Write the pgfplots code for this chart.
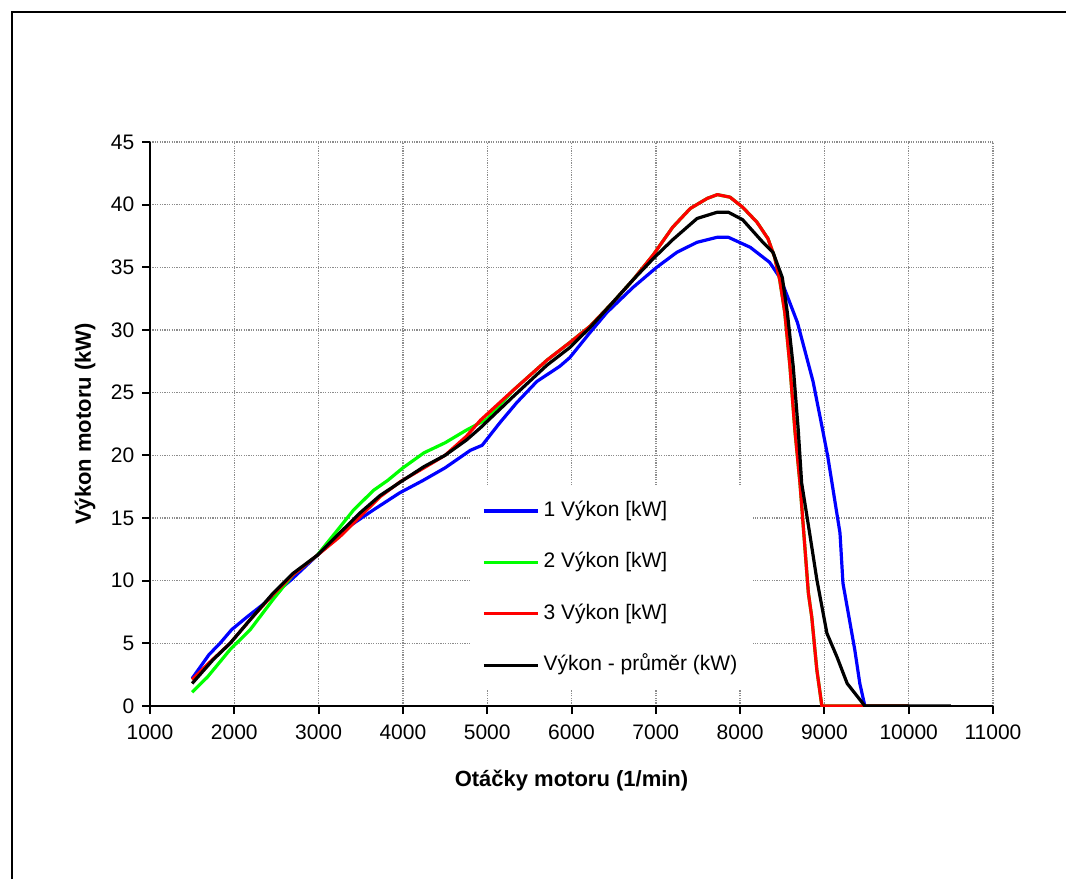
\documentclass[border=0pt]{standalone}
\usepackage{fontspec}
\setmainfont{Liberation Sans}
\usepackage{pgfplots}
\pgfplotsset{compat=1.18}

\definecolor{serA}{RGB}{0,0,255}
\definecolor{serB}{RGB}{0,255,0}
\definecolor{serC}{RGB}{255,0,0}

\begin{document}
\fontsize{11}{13}\selectfont
\begin{tikzpicture}
  \useasboundingbox (0,0) rectangle (533pt,439.5pt);
  % chart frame (left and top visible)
  \draw[line width=1pt] (6pt,0) -- (6pt,433.5pt) -- (533pt,433.5pt);
  \begin{axis}[
    at={(75pt,86.5pt)}, anchor=south west,
    scale only axis, width=421.5pt, height=282pt,
    xmin=1000, xmax=11000, ymin=0, ymax=45,
    xtick={1000,2000,...,11000}, ytick={0,5,...,45},
    scaled x ticks=false,
    axis x line*=bottom, axis y line*=left,
    axis line style={-, line width=1pt, black},
    tick align=outside, major tick length=4pt,
    tick style={line width=1pt, black},
    grid=major,
    major grid style={gray!90, line width=0.7pt, dash pattern=on 0.6pt off 0.6pt},
    /pgf/number format/1000 sep={},
    /pgf/number format/assume math mode=true,
    ticklabel style={font=\fontsize{10.5}{12}\selectfont},
    xticklabel style={yshift=-1.5pt},
    xlabel={\textbf{Otáčky motoru (1/min)}},
    ylabel={\textbf{Výkon motoru (kW)}},
    label style={font=\fontsize{11}{13}\selectfont},
    xlabel style={at={(axis description cs:0.5,-0.133)}, anchor=center},
    ylabel style={at={(axis description cs:-0.077,0.5)}, anchor=center, rotate=0},
    legend style={at={(rel axis cs:0.3796,0.39)}, anchor=north west,
      draw=none, fill=white, inner xsep=6pt, inner ysep=5pt,
      row sep=11.2pt, font=\fontsize{10.5}{12}\selectfont,
      nodes={text height=8pt, text depth=2.5pt, inner sep=2pt, anchor=west}},
    legend cell align=left,
    legend image code/.code={\draw[#1] (0pt,0pt) -- (27pt,0pt);},
    every axis plot/.append style={line width=1.6pt, line join=round},
  ]
    \addplot[serA] coordinates {
      (1500,2.2)(1700,4.1)(1830,5.0)(1970,6.1)(2150,7.1)(2340,8.1)(2540,9.3)
      (2680,10.1)(2980,12.0)(3290,14.0)(3640,15.6)(3960,17.0)(4240,18.0)
      (4500,19.0)(4800,20.4)(4940,20.8)(5150,22.6)(5350,24.2)(5590,25.9)
      (5860,27.1)(5980,27.8)(6220,29.8)(6420,31.4)(6730,33.4)(7010,35.0)
      (7250,36.2)(7490,37.0)(7730,37.4)(7860,37.4)(8120,36.6)(8350,35.4)
      (8480,34.1)(8680,30.6)(8865,25.9)(8980,22.0)(9040,19.9)(9185,13.8)
      (9220,9.8)(9360,4.5)(9420,1.8)(9480,0)(10000,0)};
    \addlegendentry{1 Výkon [kW]}
    \addplot[serB] coordinates {
      (1500,1.1)(1680,2.3)(1950,4.5)(2190,6.1)(2460,8.5)(2700,10.5)(2980,12.0)
      (3220,14.0)(3410,15.6)(3650,17.2)(3820,18.0)(4000,19.0)(4250,20.2)
      (4500,21.0)(4750,22.0)(5000,22.9)(5310,25.2)(5710,27.6)(5980,29.0)
      (6220,30.3)(6490,32.2)(6730,34.0)(6970,36.0)(7200,38.2)(7410,39.7)
      (7610,40.5)(7730,40.8)(7880,40.6)(8030,39.8)(8200,38.6)(8330,37.3)
      (8410,35.8)(8470,34.0)(8530,31.4)(8590,27.2)(8650,22.0)(8710,17.8)
      (8810,9.0)(8850,7.1)(8910,2.9)(8970,0)(10000,0)};
    \addlegendentry{2 Výkon [kW]}
    \addplot[serC] coordinates {
      (1500,2.1)(1710,3.5)(1950,5.0)(2190,6.9)(2460,8.9)(2700,10.5)(2980,12.0)
      (3250,13.5)(3490,15.1)(3730,16.7)(3970,17.9)(4250,19.0)(4500,20.0)
      (4750,21.5)(4920,22.8)(5310,25.2)(5710,27.6)(5980,29.0)(6220,30.3)
      (6490,32.2)(6730,34.0)(6970,36.0)(7200,38.2)(7410,39.7)(7610,40.5)
      (7730,40.8)(7880,40.6)(8030,39.8)(8200,38.6)(8330,37.3)(8410,35.8)
      (8470,34.0)(8530,31.4)(8590,27.2)(8650,22.0)(8710,17.8)(8810,9.0)
      (8850,7.1)(8910,2.9)(8970,0)(10000,0)};
    \addlegendentry{3 Výkon [kW]}
    \addplot[black] coordinates {
      (1500,1.8)(1750,3.7)(1950,5.0)(2190,6.9)(2460,9.0)(2700,10.6)(2980,12.0)
      (3250,13.8)(3490,15.4)(3730,16.8)(4000,18.0)(4250,19.1)(4500,20.0)
      (4750,21.2)(4920,22.2)(5310,24.7)(5710,27.2)(5980,28.6)(6220,30.2)
      (6490,32.2)(6730,34.0)(6970,35.7)(7200,37.2)(7490,38.9)(7730,39.4)
      (7860,39.4)(8030,38.8)(8270,37.0)(8390,36.2)(8500,34.2)(8560,31.4)
      (8630,27.1)(8690,22.0)(8730,17.8)(8820,14.0)(8910,10.1)(9030,5.8)
      (9150,3.9)(9270,1.8)(9480,0)(10500,0)};
    \addlegendentry{Výkon - průměr (kW)}
  \end{axis}
\end{tikzpicture}
\end{document}
